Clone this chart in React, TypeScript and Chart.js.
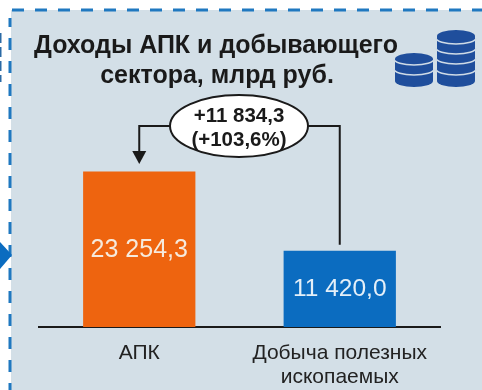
import React, { useEffect, useRef } from "react";
import { Chart, registerables } from "chart.js";

Chart.register(...registerables);

const categories = ["АПК", ["Добыча полезных", "ископаемых"]];
const values = [23254.3, 11420.0];
const valueLabels = ["23 254,3", "11 420,0"];
const barColors = ["#ee640f", "#0b6cc0"];
const titleLines = ["Доходы АПК и добывающего", "сектора, млрд руб."];
const deltaLines = ["+11 834,3", "(+103,6%)"];
const FONT = '"Liberation Sans", Arial, sans-serif';
const PANEL = "#d3dfe7";

const backdrop = {
  id: "backdrop",
  beforeDraw(chart: any) {
    const { ctx } = chart;
    ctx.save();
    ctx.fillStyle = "#ffffff";
    ctx.fillRect(0, 0, 482, 390);
    ctx.fillStyle = PANEL;
    ctx.fillRect(11, 10, 471, 380);
    ctx.strokeStyle = "#1f78c0";
    ctx.lineWidth = 3;
    ctx.setLineDash([12, 11]);
    ctx.lineDashOffset = 0;
    ctx.beginPath();
    ctx.moveTo(10, 395);
    ctx.lineTo(10, 18);
    ctx.stroke();
    ctx.beginPath();
    ctx.moveTo(12, 10);
    ctx.lineTo(482, 10);
    ctx.stroke();
    ctx.setLineDash([10, 4]);
    ctx.strokeStyle = "#2b6aa5";
    ctx.lineWidth = 2;
    ctx.beginPath();
    ctx.moveTo(0.5, 33);
    ctx.lineTo(0.5, 82);
    ctx.stroke();
    ctx.setLineDash([]);
    ctx.fillStyle = "#0b6cc0";
    ctx.beginPath();
    ctx.moveTo(0, 242);
    ctx.lineTo(12, 255);
    ctx.lineTo(0, 269);
    ctx.closePath();
    ctx.fill();
    ctx.restore();
  },
};

function stack(ctx: any, cx: number, top: number, bottom: number, seams: number[]) {
  const rx = 19;
  const ry = 6;
  ctx.fillStyle = "#1f4e9c";
  ctx.beginPath();
  ctx.moveTo(cx - rx, top);
  ctx.lineTo(cx - rx, bottom - ry);
  ctx.ellipse(cx, bottom - ry, rx, ry, 0, Math.PI, 0, true);
  ctx.lineTo(cx + rx, top);
  ctx.ellipse(cx, top, rx, ry, 0, 0, Math.PI, true);
  ctx.closePath();
  ctx.fill();
  ctx.strokeStyle = "#cfdbe6";
  ctx.lineWidth = 1.6;
  for (const s of seams) {
    ctx.beginPath();
    ctx.ellipse(cx, s, rx + 1, ry, 0, 0, Math.PI);
    ctx.stroke();
  }
}

const overlay = {
  id: "overlay",
  afterDatasetsDraw(chart: any) {
    const { ctx, scales } = chart;
    const x0 = scales.x.getPixelForValue(0);
    const x1 = scales.x.getPixelForValue(1);
    const y1 = scales.y.getPixelForValue(values[1]);
    ctx.save();

    ctx.fillStyle = "#1a1a1a";
    ctx.font = `bold 25px ${FONT}`;
    ctx.textAlign = "center";
    ctx.textBaseline = "middle";
    ctx.fillText(titleLines[0], 216, 46);
    ctx.fillText(titleLines[1], 217, 76);

    stack(ctx, 456, 36, 87, [38, 48, 58, 69]);
    stack(ctx, 414, 59, 87, [59, 69]);

    // Connector
    ctx.strokeStyle = "#1a1a1a";
    ctx.lineWidth = 2;
    ctx.beginPath();
    ctx.moveTo(x0, 154);
    ctx.lineTo(x0, 126);
    ctx.lineTo(x1, 126);
    ctx.lineTo(x1, y1 - 6);
    ctx.stroke();
    ctx.fillStyle = "#1a1a1a";
    ctx.beginPath();
    ctx.moveTo(x0 - 7, 151);
    ctx.lineTo(x0 + 7, 151);
    ctx.lineTo(x0, 164);
    ctx.closePath();
    ctx.fill();

    // Ellipse with delta
    ctx.fillStyle = "#ffffff";
    ctx.beginPath();
    ctx.ellipse(239, 126, 69, 31, 0, 0, Math.PI * 2);
    ctx.fill();
    ctx.stroke();
    ctx.fillStyle = "#1a1a1a";
    ctx.font = `bold 20.5px ${FONT}`;
    ctx.fillText(deltaLines[0], 239, 116);
    ctx.fillText(deltaLines[1], 239, 140);

    // Value labels
    ctx.font = `25px ${FONT}`;
    ctx.fillStyle = "#f6eadd";
    ctx.fillText(valueLabels[0], x0, 250);
    ctx.font = `24.5px ${FONT}`;
    ctx.fillStyle = "#e4eff8";
    ctx.fillText(valueLabels[1], x1, 289);
    ctx.restore();
  },
};

export default function App() {
  const ref = useRef<HTMLCanvasElement>(null);
  useEffect(() => {
    const chart = new Chart(ref.current!, {
      type: "bar",
      data: {
        labels: categories as any,
        datasets: [
          {
            data: values,
            backgroundColor: barColors,
            barPercentage: 0.56,
            categoryPercentage: 1,
          },
        ],
      },
      plugins: [backdrop, overlay],
      options: {
        animation: false,
        responsive: false,
        layout: { padding: { left: 39, right: 42, top: 100, bottom: 0 } },
        plugins: { legend: { display: false }, title: { display: false }, tooltip: { enabled: false } },
        scales: {
          x: {
            grid: { display: false, drawTicks: false },
            border: { color: "#1a1a1a", width: 2 },
            ticks: {
              color: "#222222",
              padding: 14,
              maxRotation: 0,
              autoSkip: false,
              font: { family: FONT, size: 21, lineHeight: 1.15 },
            },
            afterFit(axis: any) {
              axis.height = 63;
            },
          },
          y: { display: false, min: 0, max: 33960 },
        },
      },
    });
    return () => chart.destroy();
  }, []);
  return (
    <div style={{ position: "fixed", left: 0, top: 0, width: 482, height: 390 }}>
      <canvas ref={ref} width={482} height={390} style={{ display: "block" }} />
    </div>
  );
}
